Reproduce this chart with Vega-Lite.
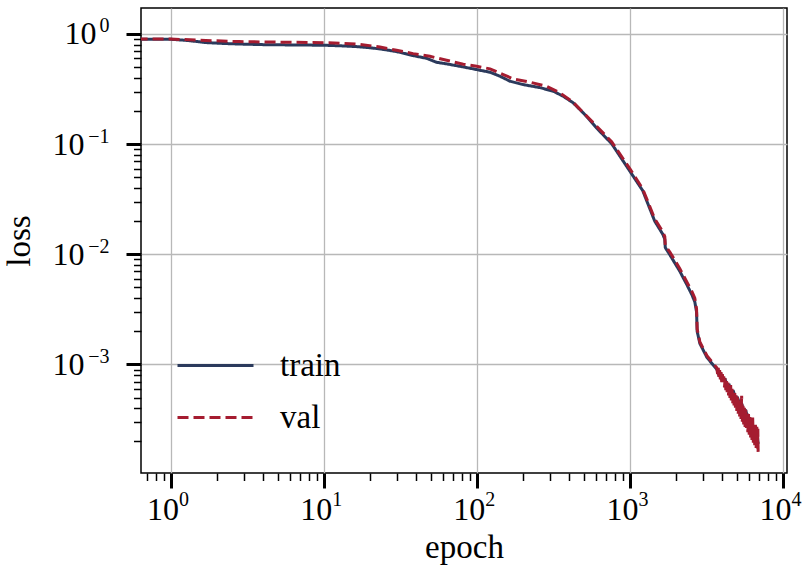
{
  "$schema": "https://vega.github.io/schema/vega-lite/v6.json",
  "width": 646,
  "height": 465,
  "autosize": "none",
  "padding": {"left": 141, "top": 8, "right": 17, "bottom": 100},
  "background": "white",
  "config": {
    "view": {"stroke": "black", "strokeWidth": 1.5},
    "font": "Liberation Serif, DejaVu Serif, serif",
    "axis": {"labelFont": "Liberation Serif, DejaVu Serif, serif", "titleFont": "Liberation Serif, DejaVu Serif, serif", "labelColor": "black", "titleColor": "black", "titleFontWeight": "normal", "labelFlush": false, "labelOverlap": false},
    "legend": {"labelFont": "Liberation Serif, DejaVu Serif, serif", "labelColor": "black"}
  },
  "data": {"values": [
    {"epoch": 0.6, "loss": 0.895, "series": "train"},
    {"epoch": 1, "loss": 0.895, "series": "train"},
    {"epoch": 1.3, "loss": 0.872, "series": "train"},
    {"epoch": 1.7, "loss": 0.835, "series": "train"},
    {"epoch": 2.2, "loss": 0.82, "series": "train"},
    {"epoch": 2.8, "loss": 0.81, "series": "train"},
    {"epoch": 4, "loss": 0.8, "series": "train"},
    {"epoch": 6, "loss": 0.795, "series": "train"},
    {"epoch": 10, "loss": 0.79, "series": "train"},
    {"epoch": 13, "loss": 0.78, "series": "train"},
    {"epoch": 16.5, "loss": 0.767, "series": "train"},
    {"epoch": 20, "loss": 0.75, "series": "train"},
    {"epoch": 23.3, "loss": 0.731, "series": "train"},
    {"epoch": 26, "loss": 0.715, "series": "train"},
    {"epoch": 29.9, "loss": 0.692, "series": "train"},
    {"epoch": 38.4, "loss": 0.636, "series": "train"},
    {"epoch": 47, "loss": 0.601, "series": "train"},
    {"epoch": 54.6, "loss": 0.553, "series": "train"},
    {"epoch": 63.5, "loss": 0.535, "series": "train"},
    {"epoch": 81.6, "loss": 0.502, "series": "train"},
    {"epoch": 99.7, "loss": 0.475, "series": "train"},
    {"epoch": 122, "loss": 0.449, "series": "train"},
    {"epoch": 142, "loss": 0.413, "series": "train"},
    {"epoch": 165, "loss": 0.372, "series": "train"},
    {"epoch": 201, "loss": 0.347, "series": "train"},
    {"epoch": 258, "loss": 0.326, "series": "train"},
    {"epoch": 316, "loss": 0.302, "series": "train"},
    {"epoch": 367, "loss": 0.272, "series": "train"},
    {"epoch": 426, "loss": 0.237, "series": "train"},
    {"epoch": 496, "loss": 0.192, "series": "train"},
    {"epoch": 548, "loss": 0.165, "series": "train"},
    {"epoch": 606, "loss": 0.14, "series": "train"},
    {"epoch": 760, "loss": 0.101, "series": "train"},
    {"epoch": 998, "loss": 0.057, "series": "train"},
    {"epoch": 1213, "loss": 0.0378, "series": "train"},
    {"epoch": 1453, "loss": 0.02, "series": "train"},
    {"epoch": 1640, "loss": 0.0152, "series": "train"},
    {"epoch": 1690, "loss": 0.0137, "series": "train"},
    {"epoch": 1703, "loss": 0.0115, "series": "train"},
    {"epoch": 1824, "loss": 0.0099, "series": "train"},
    {"epoch": 2120, "loss": 0.007, "series": "train"},
    {"epoch": 2355, "loss": 0.0053, "series": "train"},
    {"epoch": 2540, "loss": 0.0043, "series": "train"},
    {"epoch": 2655, "loss": 0.0037, "series": "train"},
    {"epoch": 2725, "loss": 0.003, "series": "train"},
    {"epoch": 2750, "loss": 0.002, "series": "train"},
    {"epoch": 2865, "loss": 0.00155, "series": "train"},
    {"epoch": 3185, "loss": 0.00116, "series": "train"},
    {"epoch": 3700, "loss": 0.0009, "series": "train"},
    {"epoch": 3816, "loss": 0.0008, "series": "train"},
    {"epoch": 3937, "loss": 0.00081, "series": "train"},
    {"epoch": 4061, "loss": 0.00072, "series": "train"},
    {"epoch": 4189, "loss": 0.00073, "series": "train"},
    {"epoch": 4321, "loss": 0.00064, "series": "train"},
    {"epoch": 4457, "loss": 0.00065, "series": "train"},
    {"epoch": 4597, "loss": 0.00057, "series": "train"},
    {"epoch": 4742, "loss": 0.00057, "series": "train"},
    {"epoch": 4891, "loss": 0.0005, "series": "train"},
    {"epoch": 5046, "loss": 0.0005, "series": "train"},
    {"epoch": 5205, "loss": 0.00044, "series": "train"},
    {"epoch": 5369, "loss": 0.00044, "series": "train"},
    {"epoch": 5538, "loss": 0.00038, "series": "train"},
    {"epoch": 5713, "loss": 0.00038, "series": "train"},
    {"epoch": 5893, "loss": 0.00033, "series": "train"},
    {"epoch": 6079, "loss": 0.00032, "series": "train"},
    {"epoch": 6271, "loss": 0.00028, "series": "train"},
    {"epoch": 6469, "loss": 0.00027, "series": "train"},
    {"epoch": 6673, "loss": 0.00023, "series": "train"},
    {"epoch": 6813, "loss": 0.00022, "series": "train"},
    {"epoch": 6880, "loss": 0.00019, "series": "train"},

    {"epoch": 0.6, "loss": 0.9, "series": "val"},
    {"epoch": 1, "loss": 0.9, "series": "val"},
    {"epoch": 1.7, "loss": 0.872, "series": "val"},
    {"epoch": 2.8, "loss": 0.852, "series": "val"},
    {"epoch": 5, "loss": 0.843, "series": "val"},
    {"epoch": 10, "loss": 0.834, "series": "val"},
    {"epoch": 16.5, "loss": 0.81, "series": "val"},
    {"epoch": 23.3, "loss": 0.762, "series": "val"},
    {"epoch": 29.9, "loss": 0.71, "series": "val"},
    {"epoch": 38.4, "loss": 0.663, "series": "val"},
    {"epoch": 49.4, "loss": 0.627, "series": "val"},
    {"epoch": 63.5, "loss": 0.577, "series": "val"},
    {"epoch": 81.6, "loss": 0.531, "series": "val"},
    {"epoch": 99.7, "loss": 0.509, "series": "val"},
    {"epoch": 122, "loss": 0.482, "series": "val"},
    {"epoch": 149, "loss": 0.428, "series": "val"},
    {"epoch": 173, "loss": 0.391, "series": "val"},
    {"epoch": 222, "loss": 0.365, "series": "val"},
    {"epoch": 286, "loss": 0.335, "series": "val"},
    {"epoch": 349, "loss": 0.292, "series": "val"},
    {"epoch": 426, "loss": 0.24, "series": "val"},
    {"epoch": 548, "loss": 0.168, "series": "val"},
    {"epoch": 760, "loss": 0.105, "series": "val"},
    {"epoch": 998, "loss": 0.06, "series": "val"},
    {"epoch": 1213, "loss": 0.0392, "series": "val"},
    {"epoch": 1453, "loss": 0.021, "series": "val"},
    {"epoch": 1640, "loss": 0.016, "series": "val"},
    {"epoch": 1690, "loss": 0.0145, "series": "val"},
    {"epoch": 1703, "loss": 0.012, "series": "val"},
    {"epoch": 1824, "loss": 0.0105, "series": "val"},
    {"epoch": 2120, "loss": 0.0074, "series": "val"},
    {"epoch": 2355, "loss": 0.0056, "series": "val"},
    {"epoch": 2540, "loss": 0.0046, "series": "val"},
    {"epoch": 2655, "loss": 0.004, "series": "val"},
    {"epoch": 2725, "loss": 0.0032, "series": "val"},
    {"epoch": 2750, "loss": 0.0021, "series": "val"},
    {"epoch": 2865, "loss": 0.0016, "series": "val"},
    {"epoch": 3185, "loss": 0.0012, "series": "val"},
    {"epoch": 3700, "loss": 0.00093, "series": "val"},
    {"epoch": 3738, "loss": 0.000816, "series": "val"},
    {"epoch": 3777, "loss": 0.000931, "series": "val"},
    {"epoch": 3816, "loss": 0.000773, "series": "val"},
    {"epoch": 3856, "loss": 0.000891, "series": "val"},
    {"epoch": 3896, "loss": 0.000731, "series": "val"},
    {"epoch": 3937, "loss": 0.000853, "series": "val"},
    {"epoch": 3978, "loss": 0.000692, "series": "val"},
    {"epoch": 4019, "loss": 0.000816, "series": "val"},
    {"epoch": 4061, "loss": 0.000655, "series": "val"},
    {"epoch": 4103, "loss": 0.000781, "series": "val"},
    {"epoch": 4146, "loss": 0.00062, "series": "val"},
    {"epoch": 4189, "loss": 0.000748, "series": "val"},
    {"epoch": 4232, "loss": 0.000586, "series": "val"},
    {"epoch": 4276, "loss": 0.000716, "series": "val"},
    {"epoch": 4321, "loss": 0.000555, "series": "val"},
    {"epoch": 4366, "loss": 0.000685, "series": "val"},
    {"epoch": 4411, "loss": 0.000525, "series": "val"},
    {"epoch": 4457, "loss": 0.000655, "series": "val"},
    {"epoch": 4503, "loss": 0.000497, "series": "val"},
    {"epoch": 4550, "loss": 0.00065, "series": "val"},
    {"epoch": 4597, "loss": 0.000471, "series": "val"},
    {"epoch": 4645, "loss": 0.0006, "series": "val"},
    {"epoch": 4693, "loss": 0.000445, "series": "val"},
    {"epoch": 4742, "loss": 0.000574, "series": "val"},
    {"epoch": 4791, "loss": 0.000422, "series": "val"},
    {"epoch": 4841, "loss": 0.000549, "series": "val"},
    {"epoch": 4891, "loss": 0.000405, "series": "val"},
    {"epoch": 4942, "loss": 0.000526, "series": "val"},
    {"epoch": 4994, "loss": 0.000378, "series": "val"},
    {"epoch": 5046, "loss": 0.000503, "series": "val"},
    {"epoch": 5098, "loss": 0.000357, "series": "val"},
    {"epoch": 5151, "loss": 0.000482, "series": "val"},
    {"epoch": 5205, "loss": 0.000338, "series": "val"},
    {"epoch": 5259, "loss": 0.000461, "series": "val"},
    {"epoch": 5314, "loss": 0.00032, "series": "val"},
    {"epoch": 5369, "loss": 0.00052, "series": "val"},
    {"epoch": 5425, "loss": 0.000303, "series": "val"},
    {"epoch": 5481, "loss": 0.000422, "series": "val"},
    {"epoch": 5538, "loss": 0.000286, "series": "val"},
    {"epoch": 5596, "loss": 0.000404, "series": "val"},
    {"epoch": 5654, "loss": 0.000271, "series": "val"},
    {"epoch": 5713, "loss": 0.000387, "series": "val"},
    {"epoch": 5772, "loss": 0.000256, "series": "val"},
    {"epoch": 5832, "loss": 0.00037, "series": "val"},
    {"epoch": 5893, "loss": 0.000243, "series": "val"},
    {"epoch": 5954, "loss": 0.000354, "series": "val"},
    {"epoch": 6016, "loss": 0.00023, "series": "val"},
    {"epoch": 6079, "loss": 0.000339, "series": "val"},
    {"epoch": 6142, "loss": 0.000218, "series": "val"},
    {"epoch": 6206, "loss": 0.000325, "series": "val"},
    {"epoch": 6271, "loss": 0.000206, "series": "val"},
    {"epoch": 6336, "loss": 0.00033, "series": "val"},
    {"epoch": 6402, "loss": 0.000195, "series": "val"},
    {"epoch": 6469, "loss": 0.000297, "series": "val"},
    {"epoch": 6536, "loss": 0.000185, "series": "val"},
    {"epoch": 6604, "loss": 0.000284, "series": "val"},
    {"epoch": 6673, "loss": 0.000175, "series": "val"},
    {"epoch": 6743, "loss": 0.000272, "series": "val"},
    {"epoch": 6813, "loss": 0.000165, "series": "val"},
    {"epoch": 6850, "loss": 0.000261, "series": "val"},
    {"epoch": 6880, "loss": 0.000161, "series": "val"}
  ]},
  "layer": [
    {
      "mark": {"type": "line", "clip": true, "strokeWidth": 3},
      "encoding": {
        "x": {"field": "epoch", "type": "quantitative",
              "scale": {"type": "log", "domain": [0.641, 10620], "nice": false},
              "axis": {"values": [1, 10, 100, 1000, 10000], "title": "epoch",
                       "labelExpr": "'10'", "labelOffset": -8,
                       "grid": true, "gridColor": "#b8b8b8", "gridWidth": 1.3,
                       "domain": false, "tickSize": 15, "tickWidth": 3, "tickColor": "black",
                       "labelFontSize": 32, "labelPadding": 6,
                       "titleFontSize": 33, "titlePadding": 6}},
        "y": {"field": "loss", "type": "quantitative",
              "scale": {"type": "log", "domain": [0.0001035, 1.72], "nice": false},
              "axis": {"values": [0.001, 0.01, 0.1, 1], "title": null,
                       "labelExpr": "datum.value >= 0.999 ? '10' : ''",
                       "grid": true, "gridColor": "#b8b8b8", "gridWidth": 1.3,
                       "domain": false, "tickSize": 15, "tickWidth": 3, "tickColor": "black",
                       "labelFontSize": 32, "labelPadding": 30}},
        "color": {"field": "series", "type": "nominal",
                  "scale": {"domain": ["train", "val"], "range": ["#2b3a5c", "#a51c30"]},
                  "legend": {"title": null, "orient": "none", "legendX": 54, "legendY": 337,
                             "symbolType": "M-2,0H2", "symbolSize": 1444, "symbolStrokeWidth": 3,
                             "labelFontSize": 33, "labelOffset": 44, "rowPadding": 14, "padding": 0}},
        "strokeDash": {"field": "series", "type": "nominal",
                       "scale": {"domain": ["train", "val"], "range": [[1, 0], [11, 5]]},
                       "legend": {"title": null, "orient": "none", "legendX": 54, "legendY": 337,
                             "symbolType": "M-2,0H2", "symbolSize": 1444, "symbolStrokeWidth": 3,
                             "labelFontSize": 33, "labelOffset": 44, "rowPadding": 14, "padding": 0}}
      }
    },
    {
      "mark": {"type": "line", "clip": true, "opacity": 0},
      "encoding": {
        "x": {"field": "epoch", "type": "quantitative",
              "axis": {"orient": "bottom", "values": [0.7, 0.8, 0.9, 2, 3, 4, 5, 6, 7, 8, 9, 20, 30, 40, 50, 60, 70, 80, 90, 200, 300, 400, 500, 600, 700, 800, 900, 2000, 3000, 4000, 5000, 6000, 7000, 8000, 9000],
                       "labels": false, "grid": false, "domain": false, "title": null,
                       "tickSize": 7.5, "tickWidth": 1.5, "tickColor": "black"}},
        "y": {"field": "loss", "type": "quantitative",
              "axis": {"orient": "left", "values": [0.0002, 0.0003, 0.0004, 0.0005, 0.0006, 0.0007, 0.0008, 0.0009, 0.002, 0.003, 0.004, 0.005, 0.006, 0.007, 0.008, 0.009, 0.02, 0.03, 0.04, 0.05, 0.06, 0.07, 0.08, 0.09, 0.2, 0.3, 0.4, 0.5, 0.6, 0.7, 0.8, 0.9],
                       "labels": false, "grid": false, "domain": false, "title": null,
                       "tickSize": 7.5, "tickWidth": 1.5, "tickColor": "black"}},
        "detail": {"field": "series", "type": "nominal"}
      }
    },
    {
      "mark": {"type": "line", "clip": true, "opacity": 0},
      "encoding": {
        "x": {"field": "epoch", "type": "quantitative",
              "axis": {"orient": "bottom", "values": [1, 10, 100, 1000, 10000],
                       "labelExpr": "['0','1','2','3','4'][round(log(datum.value)/LN10)]",
                       "labelAlign": "left", "labelOffset": 8, "labelFontSize": 20, "labelPadding": 1,
                       "grid": false, "domain": false, "title": null,
                       "tickSize": 15, "tickOpacity": 0}},
        "y": {"field": "loss", "type": "quantitative",
              "axis": {"orient": "left", "values": [0.001, 0.01, 0.1, 1],
                       "labelExpr": "datum.value >= 0.999 ? '0' : '−' + ['0','1','2','3','4'][round(-log(datum.value)/LN10)]",
                       "labelAlign": "right", "labelOffset": -8, "labelFontSize": 20, "labelPadding": 17,
                       "grid": false, "domain": false, "title": null,
                       "tickSize": 15, "tickOpacity": 0}},
        "detail": {"field": "series", "type": "nominal"}
      }
    },
    {
      "mark": {"type": "line", "clip": true, "opacity": 0},
      "encoding": {
        "x": {"field": "epoch", "type": "quantitative",
              "axis": null},
        "y": {"field": "loss", "type": "quantitative",
              "axis": {"orient": "left", "values": [0.001, 0.01, 0.1],
                       "labelExpr": "'10'", "labelFontSize": 32, "labelPadding": 42,
                       "grid": false, "domain": false, "title": "loss",
                       "titleFontSize": 33, "titlePadding": 16,
                       "tickSize": 15, "tickOpacity": 0}},
        "detail": {"field": "series", "type": "nominal"}
      }
    }
  ],
  "resolve": {"axis": {"x": "independent", "y": "independent"}}
}
